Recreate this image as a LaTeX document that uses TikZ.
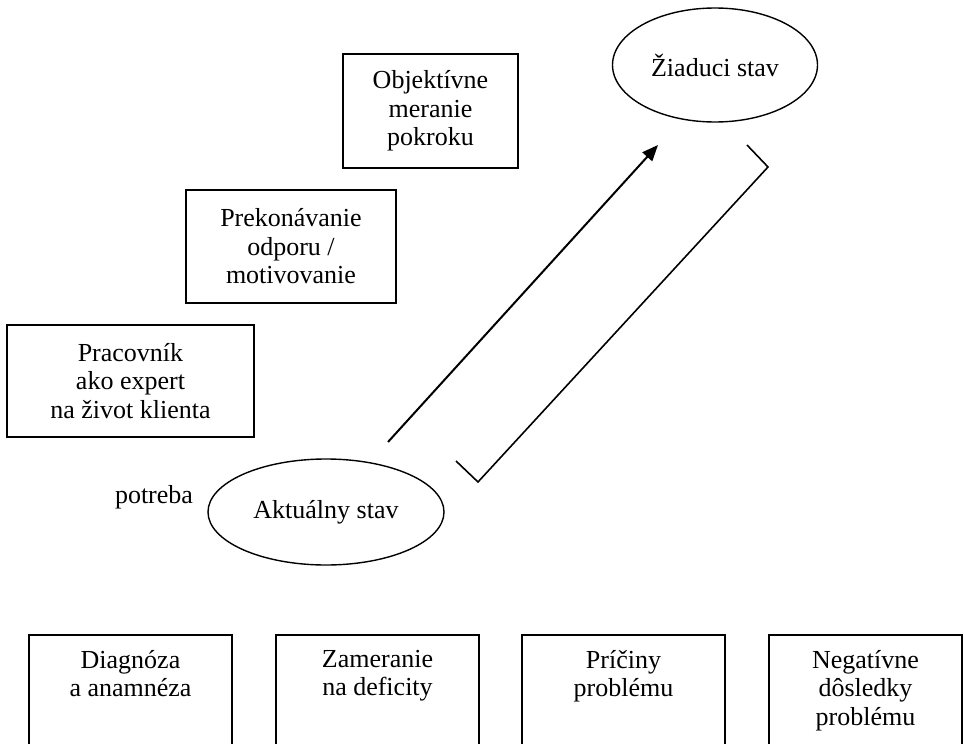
\documentclass[tikz,border=0pt]{standalone}
\usepackage{fontspec}
\setmainfont{Liberation Serif}
\usetikzlibrary{arrows.meta,shapes.geometric}
\begin{document}
\begin{tikzpicture}[x=1pt,y=-1pt,
  every node/.style={font=\fontsize{26}{28.5}\selectfont, align=center},
  box/.style={draw, line width=1.4pt, rectangle, inner sep=0pt},
  ell/.style={draw, line width=1.4pt, ellipse, inner sep=0pt},
  conn/.style={line width=2pt},
  txt/.style={inner sep=0pt, anchor=north}
]
\useasboundingbox (0,0) rectangle (964,744);
\clip (0,0) rectangle (964,744);
% ellipses
\node[ell, minimum width=205pt, minimum height=114pt] (zs) at (715,65) {Žiaduci stav};
\node[ell, minimum width=236pt, minimum height=106pt] (as) at (326,512) {Aktuálny stav};
\node[inner sep=0pt, anchor=base] (pot) at (154,503) {potreba};
% upper boxes
\node[box, minimum width=175pt, minimum height=114pt] (obj) at (430.5,111) {Objektívne\\meranie\\pokroku};
\node[box, minimum width=210pt, minimum height=113pt] (prek) at (291,246.5) {Prekonávanie\\odporu /\\motivovanie};
\node[box, minimum width=247pt, minimum height=112pt] (prac) at (130.5,381) {Pracovník\\ako expert\\na život klienta};
% bottom boxes
\node[box, minimum width=203pt, minimum height=160pt] (b1) at (130.5,715) {};
\node[box, minimum width=203pt, minimum height=160pt] (b2) at (377.5,715) {};
\node[box, minimum width=203pt, minimum height=160pt] (b3) at (623.5,715) {};
\node[box, minimum width=193pt, minimum height=160pt] (b4) at (865.5,715) {};
\node[txt] (t1) at ([yshift=-15.5pt]b1.north) {Diagnóza\\a anamnéza};
\node[txt] (t2) at ([yshift=-15.5pt]b2.north) {Zameranie\\na deficity};
\node[txt] (t3) at ([yshift=-15.5pt]b3.north) {Príčiny\\problému};
\node[txt] (t4) at ([yshift=-15.5pt]b4.north) {Negatívne\\dôsledky\\problému};
% arrow
\coordinate (a1) at (388,442);
\coordinate (a2) at (658,145);
\draw[conn, -{Triangle[length=16pt,width=13pt]}] (a1) -- (a2);
% bracket
\coordinate (p1) at (747,145);
\coordinate (p2) at (768,167);
\coordinate (p3) at (478,482);
\coordinate (p4) at (456,461);
\draw[line width=1.6pt] (p1) -- (p2) -- (p3) -- (p4);
\end{tikzpicture}
\end{document}
